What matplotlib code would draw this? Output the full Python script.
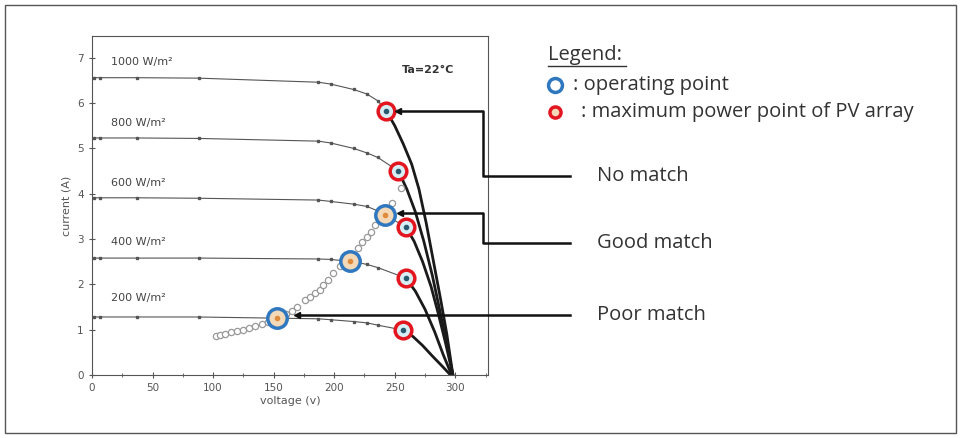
import matplotlib.pyplot as plt
import numpy as np
from matplotlib.lines import Line2D
from matplotlib.patches import Rectangle

# irradiance levels
levels = ['1000 W/m²', '800 W/m²', '600 W/m²', '400 W/m²', '200 W/m²']
label_y = [6.9, 5.56, 4.24, 2.94, 1.7]

# measured points on the flat part of each I-V curve
v_thin = [2, 7, 37, 88, 187, 197, 216, 227, 236]
i_thin = [
    [6.56, 6.56, 6.56, 6.55, 6.46, 6.42, 6.30, 6.20, 6.05],
    [5.23, 5.23, 5.23, 5.22, 5.16, 5.12, 5.00, 4.90, 4.80],
    [3.91, 3.91, 3.91, 3.90, 3.86, 3.83, 3.77, 3.72, 3.62],
    [2.58, 2.58, 2.58, 2.58, 2.56, 2.55, 2.50, 2.44, 2.37],
    [1.28, 1.28, 1.28, 1.28, 1.24, 1.22, 1.18, 1.15, 1.10],
]

# maximum power points
v_mpp = [243, 253, 259, 259, 257]
i_mpp = [5.83, 4.50, 3.27, 2.14, 0.99]

# steep part of each curve (from MPP to Voc)
v_tail = [
    [243, 250, 257, 264, 270, 276, 282, 288, 293, 298],
    [253, 260, 267, 274, 281, 287, 293, 298],
    [259, 266, 273, 280, 286, 292, 298],
    [259, 267, 275, 283, 290, 297],
    [257, 265, 273, 281, 289, 296],
]
i_tail = [
    [5.83, 5.50, 5.10, 4.65, 4.10, 3.35, 2.50, 1.65, 0.90, 0],
    [4.50, 4.10, 3.60, 2.95, 2.20, 1.45, 0.70, 0],
    [3.27, 2.95, 2.50, 1.95, 1.35, 0.70, 0],
    [2.14, 1.85, 1.45, 0.95, 0.45, 0],
    [0.99, 0.85, 0.65, 0.42, 0.20, 0],
]

# operating points (blue) and the trail of measured points (grey)
v_op = [153, 213, 242]
i_op = [1.26, 2.52, 3.53]
v_trail = [102, 106, 110, 115, 120, 125, 130, 135, 140, 145, 160, 165, 169, 176, 180,
           184, 188, 191, 195, 199, 205, 220, 223, 227, 230, 234, 238, 248, 255]
i_trail = [0.86, 0.88, 0.91, 0.94, 0.97, 1.00, 1.04, 1.08, 1.12, 1.17, 1.35, 1.42, 1.50, 1.66, 1.72,
           1.80, 1.88, 1.99, 2.10, 2.25, 2.40, 2.80, 2.94, 3.05, 3.16, 3.31, 3.42, 3.80, 4.13]

# callouts
call_text = ['No match', 'Good match', 'Poor match']
call_y = [5.83, 3.57, 1.32]
call_x = [253, 254, 169]
call_drop = [4.39, 2.91, 1.32]

blue = '#2f78c0'
red = '#e3151f'
txt = '#333333'
legfont = 'Open Sans'

fig = plt.figure(figsize=(9.61, 4.38), dpi=100)
fig.patches.append(Rectangle((5 / 961, 1 - 433 / 438), 951 / 961, 428 / 438,
                             transform=fig.transFigure, fill=False, ec='#555555', lw=1))
ax = fig.add_axes([92 / 961, 1 - 375 / 438, 396 / 961, 339 / 438])

for k in range(5):
    vv = v_thin + [v_mpp[k]]
    ii = i_thin[k] + [i_mpp[k]]
    ax.plot(vv, ii, color='#555555', lw=0.8, marker='s', ms=1.8, zorder=2)
    ax.plot(v_tail[k], i_tail[k], color='#1a1a1a', lw=2.0, zorder=2)
    ax.text(16, label_y[k], levels[k], fontsize=8, color='#444444', va='center')

ax.plot(v_trail, i_trail, ls='none', marker='o', ms=4.5, mfc='white', mec='#999999', mew=0.9, zorder=3)
ax.plot(v_op, i_op, ls='none', marker='o', ms=14, mfc='#f3d9b8', mec=blue, mew=2.5, zorder=4)
ax.plot(v_op, i_op, ls='none', marker='o', ms=3, color='#e08a3c', zorder=5)
ax.plot(v_mpp, i_mpp, ls='none', marker='o', ms=12, mfc='#d8eef5', mec=red, mew=2.5, zorder=4)
ax.plot(v_mpp, i_mpp, ls='none', marker='o', ms=3, color='#2a5a70', zorder=5)

ax.text(256, 6.73, 'Ta=22°C', fontsize=8, fontweight='bold', color='#333333', va='center')

# callout lines leaving the axes
for k in range(3):
    if k < 2:
        xs = [call_x[k], 323, 323, 395]
        ys = [call_y[k], call_y[k], call_drop[k], call_drop[k]]
    else:
        xs = [call_x[k], 395]
        ys = [call_y[k], call_y[k]]
    ax.plot(xs, ys, color='#111111', lw=1.8, clip_on=False, zorder=6)
    ax.plot(call_x[k], call_y[k], marker='<', ms=5, color='#111111', clip_on=False, zorder=6)
    ax.text(417, call_drop[k], call_text[k], fontsize=14.5, family=legfont,
            color=txt, va='center', clip_on=False)

ax.set_xlim(0, 327)
ax.set_ylim(0, 7.48)
ax.set_xticks(np.arange(0, 301, 50))
ax.set_xticks(np.arange(25, 326, 50), minor=True)
ax.set_yticks(np.arange(0, 8, 1))
ax.tick_params(direction='inout', length=5, labelsize=7.5, labelcolor='#555555', color='#555555')
ax.tick_params(which='minor', direction='inout', length=3, color='#555555')
for s in ax.spines.values():
    s.set_color('#555555')
ax.set_xlabel('voltage (v)', fontsize=8, color='#555555', labelpad=2)
ax.set_ylabel('current (A)', fontsize=8, color='#555555', labelpad=4)

# legend block on the right
fig.text(548 / 961, 1 - 55 / 438, 'Legend:', fontsize=14.5, family=legfont, color=txt, va='center')
fig.add_artist(Line2D([548 / 961, 626 / 961], [1 - 66 / 438, 1 - 66 / 438], color=txt, lw=1))
fig.add_artist(Line2D([555 / 961], [1 - 85 / 438], marker='o', ms=10, mfc='white', mec=blue, mew=2.5))
fig.add_artist(Line2D([555 / 961], [1 - 112 / 438], marker='o', ms=8, mfc='#f3d9b8', mec=red, mew=2.5))
fig.text(573 / 961, 1 - 85 / 438, ': operating point', fontsize=14.5, family=legfont, color=txt, va='center')
fig.text(581 / 961, 1 - 112 / 438, ': maximum power point of PV array', fontsize=14.5, family=legfont,
         color=txt, va='center')

fig.savefig('out.png', dpi=100)
